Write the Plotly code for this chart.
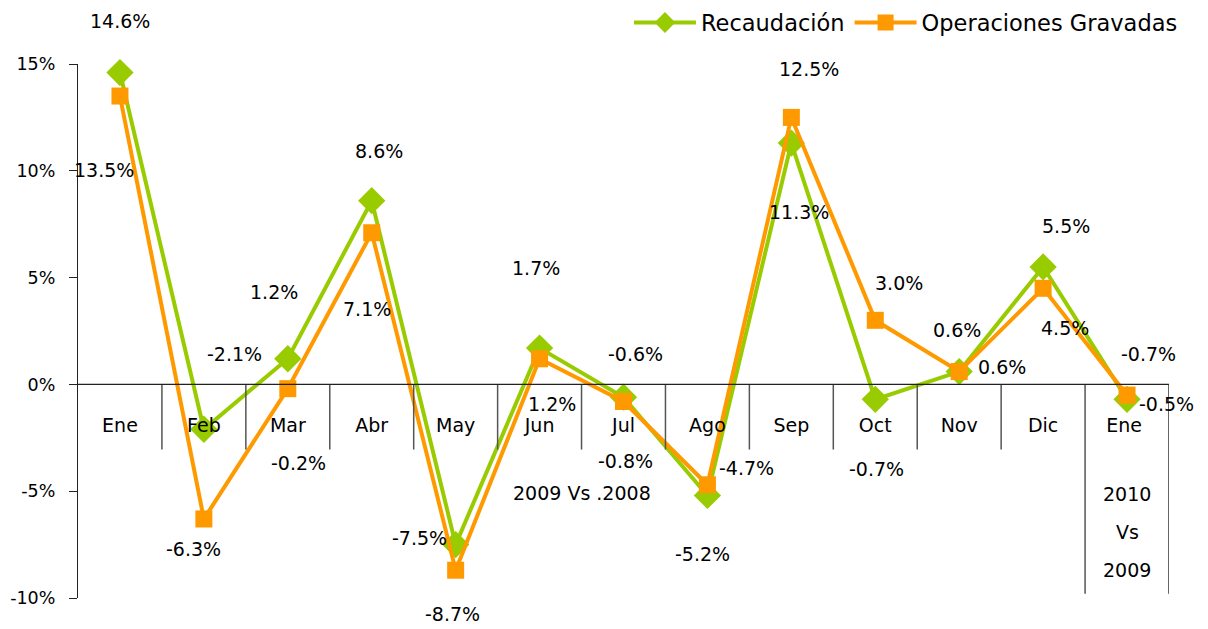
import plotly.graph_objects as go

months = ["Ene", "Feb", "Mar", "Abr", "May", "Jun", "Jul", "Ago", "Sep", "Oct", "Nov", "Dic", "Ene "]
recaudacion = [14.6, -2.1, 1.2, 8.6, -7.5, 1.7, -0.6, -5.2, 11.3, -0.7, 0.6, 5.5, -0.7]
operaciones = [13.5, -6.3, -0.2, 7.1, -8.7, 1.2, -0.8, -4.7, 12.5, 3.0, 0.6, 4.5, -0.5]

# label offsets in pixels (dx, dy upward)
rec_off = [(0, 52), (31, 75), (-14, 67), (7, 50), (-36, 7), (-4, 80), (12, 43),
           (-5, -59), (8, -69), (1, -70), (-2, 42), (23, 41), (21, 45)]
ope_off = [(-16, -74), (-10, -30), (11, -74), (-5, -76), (-3, -44), (12, -45), (2, -60),
           (39, 17), (18, 48), (24, 37), (43, 5), (22, -40), (39, -9)]

GREEN = "#99CC00"
ORANGE = "#FF9900"
FONT = "DejaVu Sans, sans-serif"
FS = 19

x_idx = list(range(len(months)))

fig = go.Figure()
fig.add_trace(go.Scatter(
    x=x_idx, y=recaudacion, name="Recaudación", mode="lines+markers",
    line=dict(color=GREEN, width=4),
    marker=dict(symbol="diamond", size=21, color=GREEN),
    cliponaxis=False,
))
fig.add_trace(go.Scatter(
    x=x_idx, y=operaciones, name="Operaciones Gravadas", mode="lines+markers",
    line=dict(color=ORANGE, width=4),
    marker=dict(symbol="square", size=17, color=ORANGE),
    cliponaxis=False,
))

annotations = []
for i, v in enumerate(recaudacion):
    dx, dy = rec_off[i]
    annotations.append(dict(x=i, y=v, xref="x", yref="y", text=f"{v:.1f}%",
                            showarrow=False, xshift=dx, yshift=dy,
                            font=dict(size=FS, color="black", family=FONT)))
for i, v in enumerate(operaciones):
    dx, dy = ope_off[i]
    annotations.append(dict(x=i, y=v, xref="x", yref="y", text=f"{v:.1f}%",
                            showarrow=False, xshift=dx, yshift=dy,
                            font=dict(size=FS, color="black", family=FONT)))

annotations.append(dict(x=5.5, y=-5.1, xref="x", yref="y", text="2009 Vs .2008",
                        showarrow=False, font=dict(size=FS, color="black", family=FONT)))
for txt, yy in [("2010", -5.15), ("Vs", -6.93), ("2009", -8.71)]:
    annotations.append(dict(x=12, y=yy, xref="x", yref="y", text=txt,
                            showarrow=False, font=dict(size=FS, color="black", family=FONT)))

shapes = []
for b in range(len(months) - 1):
    xb = b + 0.5
    y1 = -9.8 if b == len(months) - 2 else -3.05
    shapes.append(dict(type="line", xref="x", yref="y", x0=xb, x1=xb, y0=0, y1=y1,
                       line=dict(color="#555555", width=1.5)))
shapes.append(dict(type="line", xref="x", yref="y", x0=12.5, x1=12.5, y0=0, y1=-9.8,
                   line=dict(color="#333333", width=1.5)))
shapes.append(dict(type="line", xref="x", yref="y", x0=-0.5, x1=12.5, y0=0, y1=0,
                   line=dict(color="#222222", width=1.3)))

fig.update_layout(
    width=1208, height=629,
    margin=dict(l=70, r=47, t=56, b=39, autoexpand=False),
    paper_bgcolor="white", plot_bgcolor="white",
    font=dict(family=FONT, size=FS, color="black"),
    showlegend=True,
    legend=dict(orientation="h", x=1.0128, xanchor="right", y=1.077, yanchor="middle",
                font=dict(size=22.5, family=FONT), bgcolor="rgba(0,0,0,0)",
                itemwidth=62, tracegroupgap=0),
    annotations=annotations,
    shapes=shapes,
    xaxis=dict(
        range=[-0.5, 12.5], tickvals=x_idx, ticktext=months,
        showline=False, showgrid=False, zeroline=False, ticks="",
        anchor="free", position=0.4, ticklabelstandoff=28, automargin=False,
        tickfont=dict(size=FS, family=FONT),
    ),
    yaxis=dict(
        range=[-10, 15], tickvals=[-10, -5, 0, 5, 10, 15],
        ticktext=["-10%", "-5%", "0%", "5%", "10%", "15%"],
        showline=True, linecolor="#222222", linewidth=1.3,
        ticks="outside", ticklen=8, tickcolor="#222222", automargin=False,
        ticklabelstandoff=10,
        showgrid=False, zeroline=False,
        tickfont=dict(size=17.5, family=FONT),
    ),
)

fig.write_html("out.html")
